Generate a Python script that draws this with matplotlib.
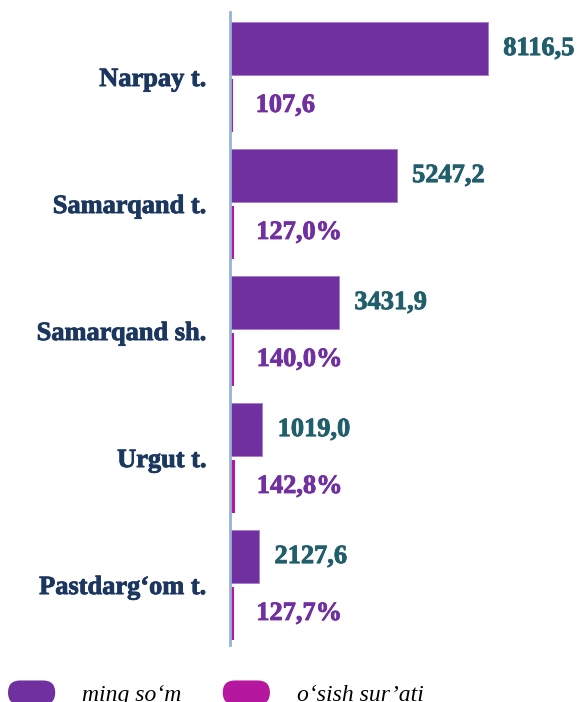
import matplotlib
matplotlib.use("Agg")
import matplotlib.pyplot as plt
import matplotlib.patheffects as pe
import numpy as np
from matplotlib.patches import FancyBboxPatch, Patch
from matplotlib.legend_handler import HandlerPatch

categories = ["Narpay t.", "Samarqand t.", "Samarqand sh.", "Urgut t.", "Pastdarg\u2018om t."]
values = [8116.5, 5247.2, 3431.9, 1019.0, 920.0]          # bar lengths as drawn
value_labels = ["8116,5", "5247,2", "3431,9", "1019,0", "2127,6"]
growth = [107.6, 127.0, 140.0, 142.8, 127.7]
growth_labels = ["107,6", "127,0%", "140,0%", "142,8%", "127,7%"]
series_names = ["ming so\u2018m", "o\u2018sish sur\u2019ati"]

C1 = "#7030A0"
C2 = "#B5179E"
TXT1 = "#215E6B"
TXT2 = "#7030A0"
NAVY = "#1B365F"
FONT = "Liberation Serif"
FS = 19


def heavy(color):
    return [pe.withStroke(linewidth=0.6, foreground=color)]


W, H = 579, 702
fig = plt.figure(figsize=(W / 100, H / 100), dpi=100)
ax_left, ax_top, ax_bot = 230, 12, 645
ax = fig.add_axes([ax_left / W, (H - ax_bot) / H, (W - ax_left) / W, (ax_bot - ax_top) / H])

y = np.arange(len(categories))
bh = 0.417
off = 0.224
ax.barh(y - off, values, height=bh, color=C1, edgecolor="#A57FC8", linewidth=0.6)
ax.barh(y + off, growth, height=bh, color=C2, linewidth=0)

ax.set_xlim(0, 10980)
ax.set_ylim(4.472, -0.512)

for yi, v, lab in zip(y, values, value_labels):
    ax.annotate(lab, (v, yi - off), xytext=(11, 0), textcoords="offset points",
                ha="left", va="center", fontsize=FS, fontweight="bold", family=FONT,
                color=TXT1, path_effects=heavy(TXT1))
for yi, v, lab in zip(y, growth, growth_labels):
    ax.annotate(lab, (v, yi + off), xytext=(16, 0), textcoords="offset points",
                ha="left", va="center", fontsize=FS, fontweight="bold", family=FONT,
                color=TXT2, path_effects=heavy(TXT2))

ax.set_yticks(y)
ax.set_yticklabels(categories, fontsize=FS, fontweight="bold", family=FONT, color=NAVY)
for t in ax.get_yticklabels():
    t.set_path_effects(heavy(NAVY))
ax.tick_params(axis="y", length=0, pad=17)
ax.set_xticks([])
for s in ["top", "right", "bottom"]:
    ax.spines[s].set_visible(False)
ax.spines["left"].set_color("#95B3D7")
ax.spines["left"].set_linewidth(2)


class RoundHandler(HandlerPatch):
    def create_artists(self, legend, orig_handle, xdescent, ydescent, width, height, fontsize, trans):
        p = FancyBboxPatch((-xdescent, -ydescent), width, height,
                           boxstyle=f"round,pad=0,rounding_size={height / 2}",
                           fc=orig_handle.get_facecolor(), ec="none", transform=trans)
        return [p]


LFS = 17
handles = [Patch(facecolor=C1), Patch(facecolor=C2)]
leg = fig.legend(handles, series_names, loc="center left", bbox_to_anchor=(8 / W, 9 / H),
                 ncol=2, frameon=False, handler_map={Patch: RoundHandler()},
                 prop={"family": FONT, "style": "italic", "size": LFS},
                 handlelength=2.0, handleheight=1.2, handletextpad=1.15, columnspacing=1.74,
                 borderaxespad=0, borderpad=0)

fig.savefig("out.png", dpi=100)
